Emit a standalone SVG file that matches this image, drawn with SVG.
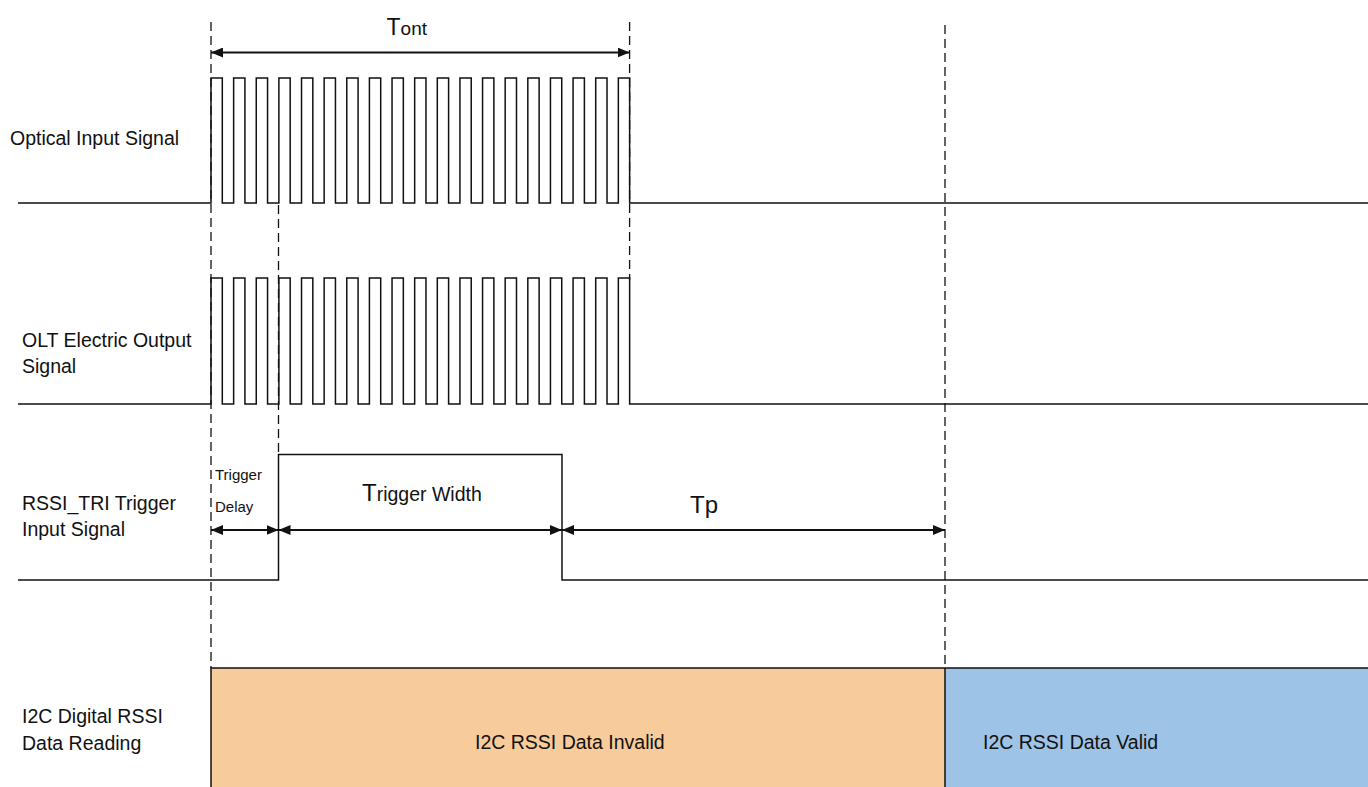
<svg xmlns="http://www.w3.org/2000/svg" width="1368" height="787" viewBox="0 0 1368 787">
<style>
text{font-family:"Liberation Sans",Arial,sans-serif;fill:#111}
.lbl{font-size:19.5px}
.sig{fill:none;stroke:#111;stroke-width:1.5}
.dash{fill:none;stroke:#111;stroke-width:1.3;stroke-dasharray:9,5}
.arr{fill:none;stroke:#111;stroke-width:2;marker-start:url(#ah);marker-end:url(#ah)}
</style>
<defs>
<marker id="ah" viewBox="0 0 12 10" refX="12" refY="5" markerWidth="12" markerHeight="10" markerUnits="userSpaceOnUse" orient="auto-start-reverse">
<path d="M0,0L12,5L0,10Z" fill="#111"/>
</marker>
</defs>
<rect width="1368" height="787" fill="#fff"/>

<g id="data-reading">
<rect x="211" y="668" width="734" height="119" fill="#F8CB9B"/>
<rect x="945" y="668" width="423" height="119" fill="#9DC3E6"/>
<path d="M211,787V668H1368M945,668V787" fill="none" stroke="#111" stroke-width="1.5"/>
<text class="lbl" x="475" y="749">I2C RSSI Data Invalid</text>
<text class="lbl" x="983" y="749">I2C RSSI Data Valid</text>
</g>

<g id="labels">
<text class="lbl" x="10" y="145">Optical Input Signal</text>
<text class="lbl" x="22" y="347">OLT Electric Output</text>
<text class="lbl" x="22" y="373">Signal</text>
<text class="lbl" x="22" y="510">RSSI_TRI Trigger</text>
<text class="lbl" x="22" y="536">Input Signal</text>
<text class="lbl" x="22" y="723">I2C Digital RSSI</text>
<text class="lbl" x="22" y="750">Data Reading</text>
</g>

<g id="optical-signal">
<path class="sig" d="M18,203H211v-125h11.3v125h11.33v-125h11.3v125h11.33v-125h11.3v125h11.33v-125h11.3v125h11.33v-125h11.3v125h11.33v-125h11.3v125h11.33v-125h11.3v125h11.33v-125h11.3v125h11.33v-125h11.3v125h11.33v-125h11.3v125h11.33v-125h11.3v125h11.33v-125h11.3v125h11.33v-125h11.3v125h11.33v-125h11.3v125h11.33v-125h11.3v125h11.33v-125h11.3v125h11.33v-125h11.3v125h11.33v-125h11.3v125h11.33v-125h11.3v125H1368"/>
</g>

<g id="olt-signal">
<path class="sig" d="M18,404H211v-126h11.3v126h11.33v-126h11.3v126h11.33v-126h11.3v126h11.33v-126h11.3v126h11.33v-126h11.3v126h11.33v-126h11.3v126h11.33v-126h11.3v126h11.33v-126h11.3v126h11.33v-126h11.3v126h11.33v-126h11.3v126h11.33v-126h11.3v126h11.33v-126h11.3v126h11.33v-126h11.3v126h11.33v-126h11.3v126h11.33v-126h11.3v126h11.33v-126h11.3v126h11.33v-126h11.3v126h11.33v-126h11.3v126h11.33v-126h11.3v126H1368"/>
</g>

<g id="trigger-signal">
<path class="sig" d="M18,580H278.5V454.5H562V580H1368"/>
</g>

<g id="connectors">
<line class="dash" x1="211" y1="22" x2="211" y2="668"/>
<line class="dash" x1="278.5" y1="205" x2="278.5" y2="454"/>
<line class="dash" x1="629.6" y1="22" x2="629.6" y2="280"/>
<line class="dash" x1="945" y1="25" x2="945" y2="668"/>
<line class="arr" x1="211" y1="52.5" x2="629.6" y2="52.5"/>
<line class="arr" x1="211" y1="530" x2="278.5" y2="530"/>
<line class="arr" x1="278.5" y1="530" x2="562" y2="530"/>
<line class="arr" x1="562" y1="530" x2="945" y2="530"/>
</g>

<g id="dimension-labels">
<text x="386.5" y="35"><tspan font-size="23">T</tspan><tspan font-size="19">ont</tspan></text>
<text x="362" y="501"><tspan font-size="24">T</tspan><tspan font-size="19.5">rigger Width</tspan></text>
<text x="690" y="513" font-size="24">Tp</text>
<text x="215" y="480" font-size="15">Trigger</text>
<text x="215" y="512" font-size="15">Delay</text>
</g>
</svg>
